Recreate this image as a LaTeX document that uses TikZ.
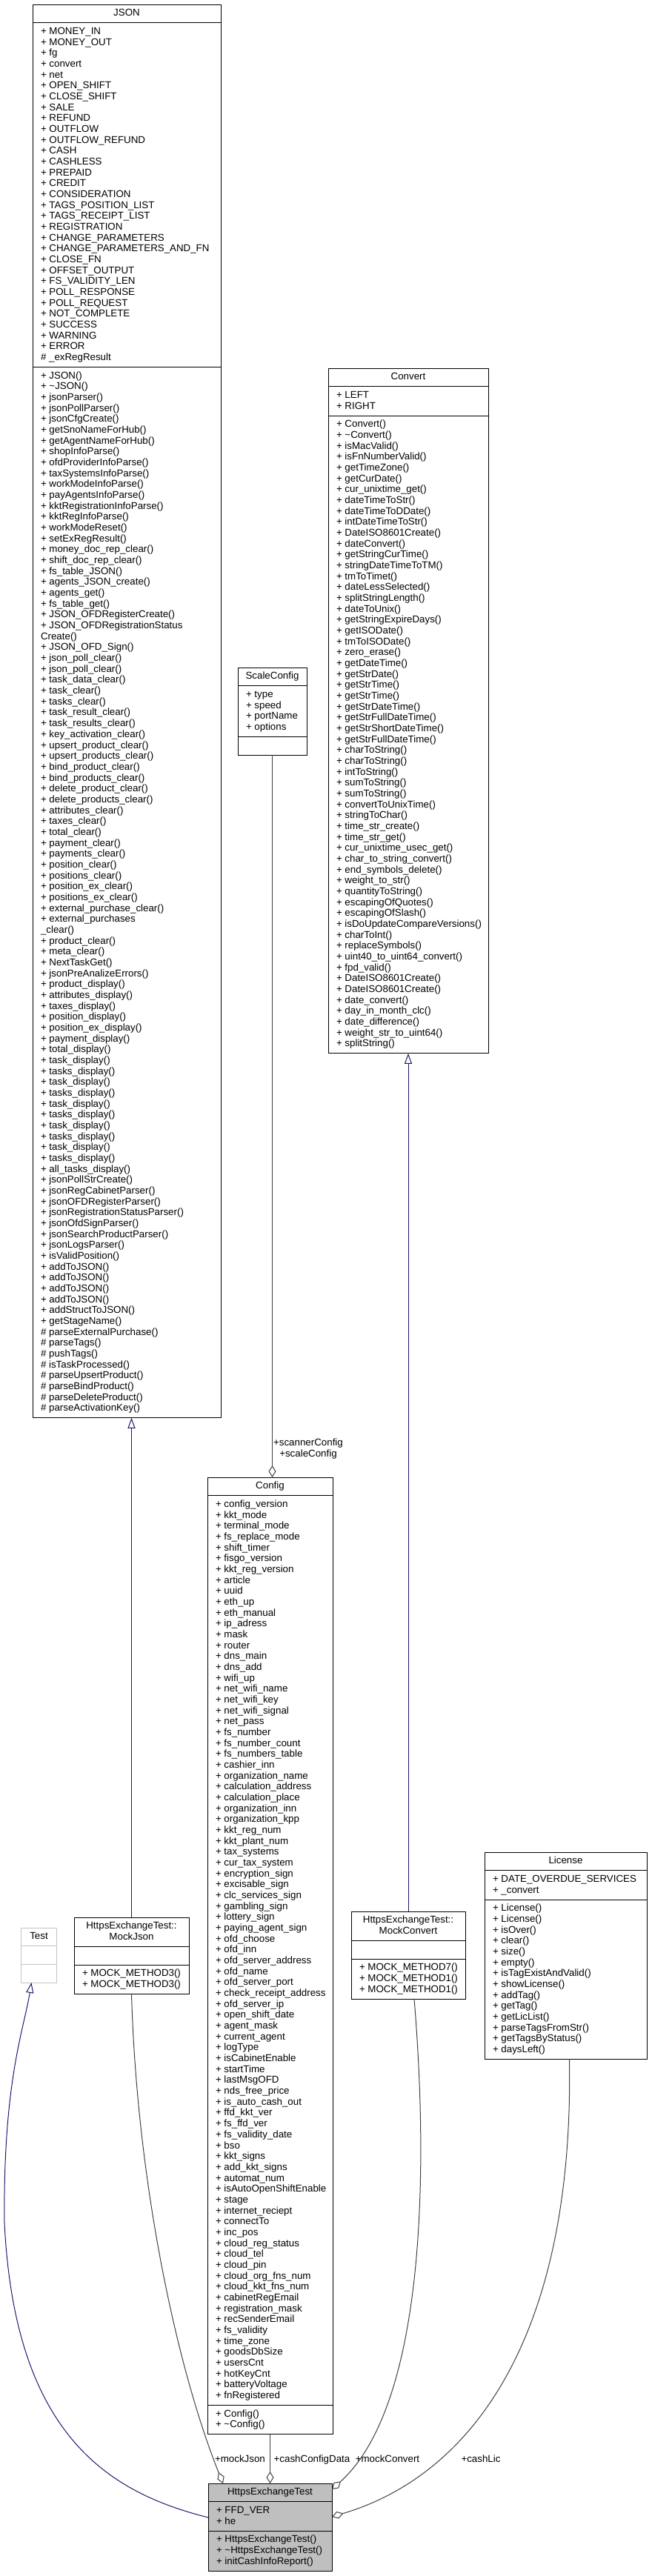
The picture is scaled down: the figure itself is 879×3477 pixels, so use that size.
\documentclass[tikz,border=0pt]{standalone}
\usepackage{fontspec}
\setmainfont{Liberation Sans}
\usetikzlibrary{arrows.meta,calc}
\definecolor{inhcol}{HTML}{191970}
\definecolor{aggcol}{HTML}{404040}
\definecolor{hetgray}{HTML}{BFBFBF}
\definecolor{testgray}{HTML}{C4C4C4}
\newcommand\cfont{\fontsize{13.33pt}{14.67pt}\selectfont}
\newcommand\mst{\vrule height 10.75pt depth 3.92pt width 0pt}
\newcommand\tlines[1]{\begin{tabular}{@{}l@{}}#1\end{tabular}}
\tikzset{
  classbox/.style={draw=black, line width=1pt, fill=white, inner sep=0pt, outer sep=0pt},
  txt/.style={inner sep=0pt, outer sep=0pt, font=\cfont, text=black, anchor=north west},
  ttl/.style={inner sep=0pt, outer sep=0pt, font=\cfont, align=center, text=black, anchor=north},
  lbl/.style={inner sep=0pt, outer sep=0pt, font=\cfont, align=center, text=black, anchor=north},
  inherit/.style={draw=inhcol, line width=1pt, -{Triangle[open,length=14pt,width=10pt,fill=white]}},
  aggr/.style={draw=aggcol, line width=1pt, -{Diamond[open,length=16pt,width=10pt,fill=white]}},
}
% #1 style, #2 name, #3 x, #4 y, #5 width, #6 #7 #8 line counts
\newcommand\umlbox[8][]{%
  \pgfmathsetmacro\hA{#6*14.67+10}%
  \pgfmathsetmacro\hB{max(#7,1)*14.67+10}%
  \pgfmathsetmacro\hC{max(#8,1)*14.67+10}%
  \pgfmathsetmacro\hT{\hA+\hB+\hC}%
  \pgfmathsetmacro\yA{#4+\hA}%
  \pgfmathsetmacro\yB{#4+\hA+\hB}%
  \node[classbox,#1,minimum width=#5pt,minimum height=\hT pt,anchor=north west] (#2) at (#3,#4) {};
  \draw[classbox,#1,fill=none] (#3,\yA) -- ++(#5,0);
  \draw[classbox,#1,fill=none] (#3,\yB) -- ++(#5,0);
  \coordinate (#2-a) at (#3,\yA);
  \coordinate (#2-m) at (#3,\yB);
}
\begin{document}
\begin{tikzpicture}[x=1pt,y=-1pt]
\useasboundingbox (0,0) rectangle (879,3477);

% ---------------- JSON ----------------
\umlbox{json}{44}{6}{254}{1}{31}{96}
\node[ttl] (json-title) at ([yshift=-5pt]json.north) {\mst JSON};
\node[txt] (json-attr) at ([xshift=11pt,yshift=-5.5pt]json-a) {\tlines{+ MONEY\_IN\\
+ MONEY\_OUT\\
+ fg\\
+ convert\\
+ net\\
+ OPEN\_SHIFT\\
+ CLOSE\_SHIFT\\
+ SALE\\
+ REFUND\\
+ OUTFLOW\\
+ OUTFLOW\_REFUND\\
+ CASH\\
+ CASHLESS\\
+ PREPAID\\
+ CREDIT\\
+ CONSIDERATION\\
+ TAGS\_POSITION\_LIST\\
+ TAGS\_RECEIPT\_LIST\\
+ REGISTRATION\\
+ CHANGE\_PARAMETERS\\
+ CHANGE\_PARAMETERS\_AND\_FN\\
+ CLOSE\_FN\\
+ OFFSET\_OUTPUT\\
+ FS\_VALIDITY\_LEN\\
+ POLL\_RESPONSE\\
+ POLL\_REQUEST\\
+ NOT\_COMPLETE\\
+ SUCCESS\\
+ WARNING\\
+ ERROR\\
\# \_exRegResult}};
\node[txt] (json-meth) at ([xshift=11pt,yshift=-5.5pt]json-m) {\tlines{+ JSON()\\
+ \textasciitilde JSON()\\
+ jsonParser()\\
+ jsonPollParser()\\
+ jsonCfgCreate()\\
+ getSnoNameForHub()\\
+ getAgentNameForHub()\\
+ shopInfoParse()\\
+ ofdProviderInfoParse()\\
+ taxSystemsInfoParse()\\
+ workModeInfoParse()\\
+ payAgentsInfoParse()\\
+ kktRegistrationInfoParse()\\
+ kktRegInfoParse()\\
+ workModeReset()\\
+ setExRegResult()\\
+ money\_doc\_rep\_clear()\\
+ shift\_doc\_rep\_clear()\\
+ fs\_table\_JSON()\\
+ agents\_JSON\_create()\\
+ agents\_get()\\
+ fs\_table\_get()\\
+ JSON\_OFDRegisterCreate()\\
+ JSON\_OFDRegistrationStatus\\
Create()\\
+ JSON\_OFD\_Sign()\\
+ json\_poll\_clear()\\
+ json\_poll\_clear()\\
+ task\_data\_clear()\\
+ task\_clear()\\
+ tasks\_clear()\\
+ task\_result\_clear()\\
+ task\_results\_clear()\\
+ key\_activation\_clear()\\
+ upsert\_product\_clear()\\
+ upsert\_products\_clear()\\
+ bind\_product\_clear()\\
+ bind\_products\_clear()\\
+ delete\_product\_clear()\\
+ delete\_products\_clear()\\
+ attributes\_clear()\\
+ taxes\_clear()\\
+ total\_clear()\\
+ payment\_clear()\\
+ payments\_clear()\\
+ position\_clear()\\
+ positions\_clear()\\
+ position\_ex\_clear()\\
+ positions\_ex\_clear()\\
+ external\_purchase\_clear()\\
+ external\_purchases\\
\_clear()\\
+ product\_clear()\\
+ meta\_clear()\\
+ NextTaskGet()\\
+ jsonPreAnalizeErrors()\\
+ product\_display()\\
+ attributes\_display()\\
+ taxes\_display()\\
+ position\_display()\\
+ position\_ex\_display()\\
+ payment\_display()\\
+ total\_display()\\
+ task\_display()\\
+ tasks\_display()\\
+ task\_display()\\
+ tasks\_display()\\
+ task\_display()\\
+ tasks\_display()\\
+ task\_display()\\
+ tasks\_display()\\
+ task\_display()\\
+ tasks\_display()\\
+ all\_tasks\_display()\\
+ jsonPollStrCreate()\\
+ jsonRegCabinetParser()\\
+ jsonOFDRegisterParser()\\
+ jsonRegistrationStatusParser()\\
+ jsonOfdSignParser()\\
+ jsonSearchProductParser()\\
+ jsonLogsParser()\\
+ isValidPosition()\\
+ addToJSON()\\
+ addToJSON()\\
+ addToJSON()\\
+ addToJSON()\\
+ addStructToJSON()\\
+ getStageName()\\
\# parseExternalPurchase()\\
\# parseTags()\\
\# pushTags()\\
\# isTaskProcessed()\\
\# parseUpsertProduct()\\
\# parseBindProduct()\\
\# parseDeleteProduct()\\
\# parseActivationKey()}};

% ---------------- ScaleConfig ----------------
\umlbox{scaleconfig}{321}{901}{93}{1}{4}{0}
\node[ttl] (scaleconfig-title) at ([yshift=-5pt]scaleconfig.north) {\mst ScaleConfig};
\node[txt] (scaleconfig-attr) at ([xshift=11pt,yshift=-5.5pt]scaleconfig-a) {\tlines{+ type\\
+ speed\\
+ portName\\
+ options}};

% ---------------- Convert ----------------
\umlbox{convert}{443}{497}{216}{1}{2}{58}
\node[ttl] (convert-title) at ([yshift=-5pt]convert.north) {\mst Convert};
\node[txt] (convert-attr) at ([xshift=11pt,yshift=-5.5pt]convert-a) {\tlines{+ LEFT\\
+ RIGHT}};
\node[txt] (convert-meth) at ([xshift=11pt,yshift=-5.5pt]convert-m) {\tlines{+ Convert()\\
+ \textasciitilde Convert()\\
+ isMacValid()\\
+ isFnNumberValid()\\
+ getTimeZone()\\
+ getCurDate()\\
+ cur\_unixtime\_get()\\
+ dateTimeToStr()\\
+ dateTimeToDDate()\\
+ intDateTimeToStr()\\
+ DateISO8601Create()\\
+ dateConvert()\\
+ getStringCurTime()\\
+ stringDateTimeToTM()\\
+ tmToTimet()\\
+ dateLessSelected()\\
+ splitStringLength()\\
+ dateToUnix()\\
+ getStringExpireDays()\\
+ getISODate()\\
+ tmToISODate()\\
+ zero\_erase()\\
+ getDateTime()\\
+ getStrDate()\\
+ getStrTime()\\
+ getStrTime()\\
+ getStrDateTime()\\
+ getStrFullDateTime()\\
+ getStrShortDateTime()\\
+ getStrFullDateTime()\\
+ charToString()\\
+ charToString()\\
+ intToString()\\
+ sumToString()\\
+ sumToString()\\
+ convertToUnixTime()\\
+ stringToChar()\\
+ time\_str\_create()\\
+ time\_str\_get()\\
+ cur\_unixtime\_usec\_get()\\
+ char\_to\_string\_convert()\\
+ end\_symbols\_delete()\\
+ weight\_to\_str()\\
+ quantityToString()\\
+ escapingOfQuotes()\\
+ escapingOfSlash()\\
+ isDoUpdateCompareVersions()\\
+ charToInt()\\
+ replaceSymbols()\\
+ uint40\_to\_uint64\_convert()\\
+ fpd\_valid()\\
+ DateISO8601Create()\\
+ DateISO8601Create()\\
+ date\_convert()\\
+ day\_in\_month\_clc()\\
+ date\_difference()\\
+ weight\_str\_to\_uint64()\\
+ splitString()}};

% ---------------- Config ----------------
\umlbox{config}{280}{1994}{169}{1}{83}{2}
\node[ttl] (config-title) at ([yshift=-5pt]config.north) {\mst Config};
\node[txt] (config-attr) at ([xshift=11pt,yshift=-5.5pt]config-a) {\tlines{+ config\_version\\
+ kkt\_mode\\
+ terminal\_mode\\
+ fs\_replace\_mode\\
+ shift\_timer\\
+ fisgo\_version\\
+ kkt\_reg\_version\\
+ article\\
+ uuid\\
+ eth\_up\\
+ eth\_manual\\
+ ip\_adress\\
+ mask\\
+ router\\
+ dns\_main\\
+ dns\_add\\
+ wifi\_up\\
+ net\_wifi\_name\\
+ net\_wifi\_key\\
+ net\_wifi\_signal\\
+ net\_pass\\
+ fs\_number\\
+ fs\_number\_count\\
+ fs\_numbers\_table\\
+ cashier\_inn\\
+ organization\_name\\
+ calculation\_address\\
+ calculation\_place\\
+ organization\_inn\\
+ organization\_kpp\\
+ kkt\_reg\_num\\
+ kkt\_plant\_num\\
+ tax\_systems\\
+ cur\_tax\_system\\
+ encryption\_sign\\
+ excisable\_sign\\
+ clc\_services\_sign\\
+ gambling\_sign\\
+ lottery\_sign\\
+ paying\_agent\_sign\\
+ ofd\_choose\\
+ ofd\_inn\\
+ ofd\_server\_address\\
+ ofd\_name\\
+ ofd\_server\_port\\
+ check\_receipt\_address\\
+ ofd\_server\_ip\\
+ open\_shift\_date\\
+ agent\_mask\\
+ current\_agent\\
+ logType\\
+ isCabinetEnable\\
+ startTime\\
+ lastMsgOFD\\
+ nds\_free\_price\\
+ is\_auto\_cash\_out\\
+ ffd\_kkt\_ver\\
+ fs\_ffd\_ver\\
+ fs\_validity\_date\\
+ bso\\
+ kkt\_signs\\
+ add\_kkt\_signs\\
+ automat\_num\\
+ isAutoOpenShiftEnable\\
+ stage\\
+ internet\_reciept\\
+ connectTo\\
+ inc\_pos\\
+ cloud\_reg\_status\\
+ cloud\_tel\\
+ cloud\_pin\\
+ cloud\_org\_fns\_num\\
+ cloud\_kkt\_fns\_num\\
+ cabinetRegEmail\\
+ registration\_mask\\
+ recSenderEmail\\
+ fs\_validity\\
+ time\_zone\\
+ goodsDbSize\\
+ usersCnt\\
+ hotKeyCnt\\
+ batteryVoltage\\
+ fnRegistered}};
\node[txt] (config-meth) at ([xshift=11pt,yshift=-5.5pt]config-m) {\tlines{+ Config()\\
+ \textasciitilde Config()}};

% ---------------- Test ----------------
\umlbox[draw=testgray]{test}{28.5}{2602}{48}{1}{0}{0}
\node[ttl] (test-title) at ([yshift=-5pt]test.north) {\mst Test};

% ---------------- MockJson ----------------
\umlbox{mockjson}{100}{2588}{155}{2}{0}{2}
\node[ttl] (mockjson-title) at ([yshift=-5pt]mockjson.north) {\mst HttpsExchangeTest::\\MockJson};
\node[txt] (mockjson-meth) at ([xshift=11pt,yshift=-5.5pt]mockjson-m) {\tlines{+ MOCK\_METHOD3()\\
+ MOCK\_METHOD3()}};

% ---------------- MockConvert ----------------
\umlbox{mockconvert}{474}{2580}{154}{2}{0}{3}
\node[ttl] (mockconvert-title) at ([yshift=-5pt]mockconvert.north) {\mst HttpsExchangeTest::\\MockConvert};
\node[txt] (mockconvert-meth) at ([xshift=11pt,yshift=-5.5pt]mockconvert-m) {\tlines{+ MOCK\_METHOD7()\\
+ MOCK\_METHOD1()\\
+ MOCK\_METHOD1()}};

% ---------------- License ----------------
\umlbox{license}{654}{2500}{219}{1}{2}{14}
\node[ttl] (license-title) at ([yshift=-5pt]license.north) {\mst License};
\node[txt] (license-attr) at ([xshift=11pt,yshift=-5.5pt]license-a) {\tlines{+ DATE\_OVERDUE\_SERVICES\\
+ \_convert}};
\node[txt] (license-meth) at ([xshift=11pt,yshift=-5.5pt]license-m) {\tlines{+ License()\\
+ License()\\
+ isOver()\\
+ clear()\\
+ size()\\
+ empty()\\
+ isTagExistAndValid()\\
+ showLicense()\\
+ addTag()\\
+ getTag()\\
+ getLicList()\\
+ parseTagsFromStr()\\
+ getTagsByStatus()\\
+ daysLeft()}};

% ---------------- HttpsExchangeTest ----------------
\umlbox[fill=hetgray]{het}{281}{3352}{167}{1}{2}{3}
\node[ttl] (het-title) at ([yshift=-5pt]het.north) {\mst HttpsExchangeTest};
\node[txt] (het-attr) at ([xshift=11pt,yshift=-5.5pt]het-a) {\tlines{+ FFD\_VER\\
+ he}};
\node[txt] (het-meth) at ([xshift=11pt,yshift=-5.5pt]het-m) {\tlines{+ HttpsExchangeTest()\\
+ \textasciitilde HttpsExchangeTest()\\
+ initCashInfoReport()}};

% ---------------- connectors ----------------
\draw[inherit] (mockjson.north) -- (mockjson.north |- json.south);
\draw[inherit] (mockconvert.north) -- (mockconvert.north |- convert.south);
\draw[aggr] (scaleconfig.south) -- (scaleconfig.south |- config.north);
\draw[aggr] (config.south) -- (config.south |- het.north);
\draw[aggr] (mockjson.south) .. controls (185,2950) and (240,3200) .. ([xshift=20pt]het.north west);
\draw[aggr] ([xshift=8pt]mockconvert.south) .. controls (580,2950) and (570,3250) .. ([yshift=-8pt]het.north east);
\draw[aggr] ([xshift=5pt]license.south) .. controls (775,3150) and (640,3340) .. ([yshift=14pt]het.east);
\draw[inherit] ([yshift=13pt]het.west) .. controls (150,3365) and (20,3290) .. (6,3000) .. controls (4,2810) and (32,2740) .. ([xshift=-10pt]test.south);

% ---------------- labels ----------------
\node[lbl] (lab-scale) at (416,1941) {\mst +scannerConfig\\+scaleConfig};
\node[lbl] (lab-mockjson) at (324,3313) {\mst +mockJson};
\node[lbl] (lab-cashcfg) at (421,3313) {\mst +cashConfigData};
\node[lbl] (lab-mockconv) at (523,3313) {\mst +mockConvert};
\node[lbl] (lab-cashlic) at (649,3313) {\mst +cashLic};
\end{tikzpicture}
\end{document}
